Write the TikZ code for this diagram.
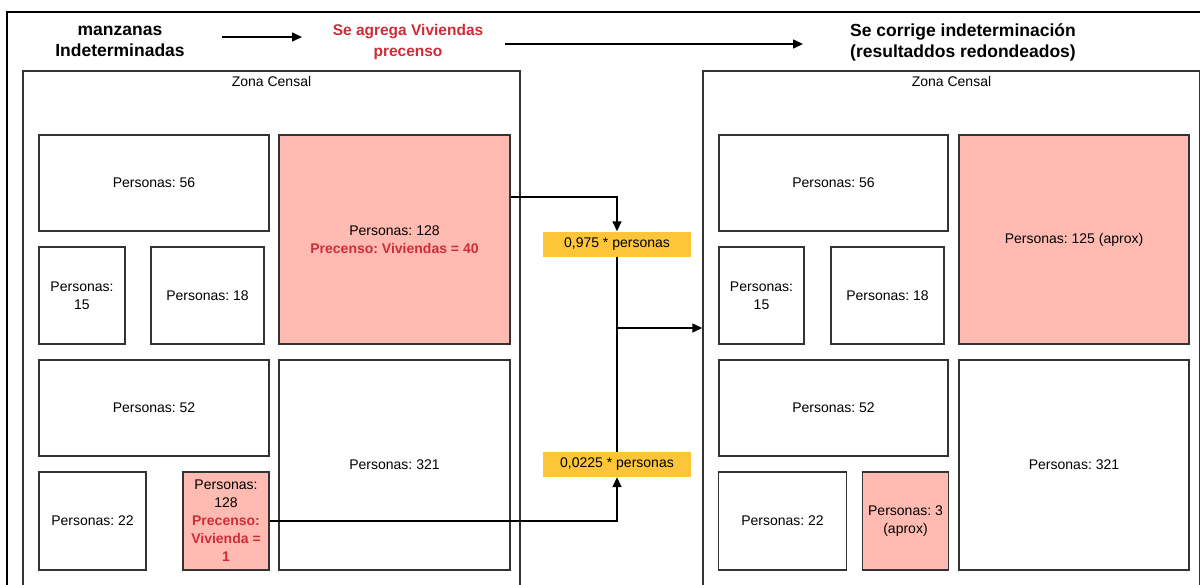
\documentclass[tikz,border=0pt]{standalone}
\usepackage{fontspec}
\setmainfont{Liberation Sans}
\usetikzlibrary{shapes, arrows.meta, positioning, calc}
\frenchspacing

\definecolor{rojoTexto}{RGB}{208,44,56}
\definecolor{rojoCaja}{RGB}{255,187,177}
\definecolor{amarillo}{RGB}{252,198,56}
\definecolor{borde}{RGB}{51,51,51}

\begin{document}
\begin{tikzpicture}[x=1pt, y=-1pt, every node/.style={font=\fontsize{14}{18}\selectfont}]
    \tikzstyle{caja} = [draw=borde, line width=1.5pt, rectangle, fill=white, align=center, inner sep=0pt]
    \tikzstyle{cajaroja} = [caja, fill=rojoCaja]
    \tikzstyle{zona} = [draw=borde, line width=1.5pt, rectangle, minimum width=497pt, minimum height=549pt]
    \tikzstyle{factor} = [rectangle, fill=amarillo, minimum width=148pt, minimum height=25pt, inner sep=0pt]
    \tikzstyle{titulo} = [align=center, font=\fontsize{17.5}{21}\selectfont\bfseries]
    \tikzstyle{flecha} = [-{Triangle[length=10pt,width=9pt]}, line width=1.5pt]

    \useasboundingbox (0,0) rectangle (1200,584);
    \clip (0,0) rectangle (1200,584);

    % marco exterior
    \draw[line width=2pt] (7,620) |- (1220,12);

    % titulos
    \node[titulo] (tit1) at (120,41.5) {manzanas\\Indeterminadas};
    \node[titulo, text=rojoTexto, font=\fontsize{15.5}{21}\selectfont\bfseries] (tit2) at (408,41.5) {Se agrega Viviendas\\precenso};
    \node[titulo] (tit3) at (963,42) {Se corrige indeterminación\\(resultaddos redondeados)};
    \coordinate (a1) at (222,37);
    \coordinate (b1) at (302,37);
    \coordinate (a2) at (505,44);
    \coordinate (b2) at (803,44);
    \draw[flecha] (a1) -- (b1);
    \draw[flecha] (a2) -- (b2);

    % zona censal antes
    \node[zona] (zonaIzq) at (271.5,345.5) {};
    \node[below=3pt of zonaIzq.north] (zonaIzqTit) {Zona Censal};
    \node[caja, minimum width=230pt, minimum height=96pt] (p56) at (154,183) {Personas: 56};
    \node[cajaroja, minimum width=231pt, minimum height=209pt] (p128) at (394.5,239.5) {Personas: 128\\\textcolor{rojoTexto}{\textbf{Precenso: Viviendas = 40}}};
    \node[caja, minimum width=86pt, minimum height=97pt] (p15) at (82,295.5) {Personas:\\15};
    \node[caja, minimum width=113pt, minimum height=97pt] (p18) at (207.5,295.5) {Personas: 18};
    \node[caja, minimum width=230pt, minimum height=96pt] (p52) at (154,408) {Personas: 52};
    \node[caja, minimum width=231pt, minimum height=210pt] (p321) at (394.5,465) {Personas: 321};
    \node[caja, minimum width=107pt, minimum height=98pt] (p22) at (92.5,521) {Personas: 22};
    \node[cajaroja, minimum width=86pt, minimum height=98pt] (p128b) at (226,521) {Personas:\\128\\\textcolor{rojoTexto}{\textbf{Precenso:}}\\\textcolor{rojoTexto}{\textbf{Vivienda =}}\\\textcolor{rojoTexto}{\textbf{1}}};

    % zona censal despues
    \node[zona] (zonaDer) at (951.5,345.5) {};
    \node[below=3pt of zonaDer.north] (zonaDerTit) {Zona Censal};
    \node[caja, minimum width=229pt, minimum height=96pt] (q56) at (833.5,183) {Personas: 56};
    \node[cajaroja, minimum width=230pt, minimum height=209pt] (q125) at (1074,239.5) {Personas: 125 (aprox)};
    \node[caja, minimum width=85pt, minimum height=97pt] (q15) at (761.5,295.5) {Personas:\\15};
    \node[caja, minimum width=113pt, minimum height=97pt] (q18) at (887.5,295.5) {Personas: 18};
    \node[caja, minimum width=229pt, minimum height=96pt] (q52) at (833.5,408) {Personas: 52};
    \node[caja, minimum width=230pt, minimum height=210pt] (q321) at (1074,465) {Personas: 321};
    \node[caja, minimum width=128pt, minimum height=98pt] (q22) at (782.5,521) {Personas: 22};
    \node[cajaroja, minimum width=86pt, minimum height=98pt] (q3) at (905.5,521) {Personas: 3\\(aprox)};

    % factores
    \node[factor] (f1) at (617,244) {0,975 * personas};
    \node[factor] (f2) at (617,464.5) {0,0225 * personas};
    \coordinate (union) at (617,328);

    \draw[flecha] ([yshift=42.5pt]p128.east) -| (f1.north);
    \draw[flecha] (p128b.east) -| (f2.south);
    \draw[line width=1.5pt] (f1.south) -- (f2.north);
    \draw[flecha] (union) -- (union -| zonaDer.west);
\end{tikzpicture}
\end{document}
